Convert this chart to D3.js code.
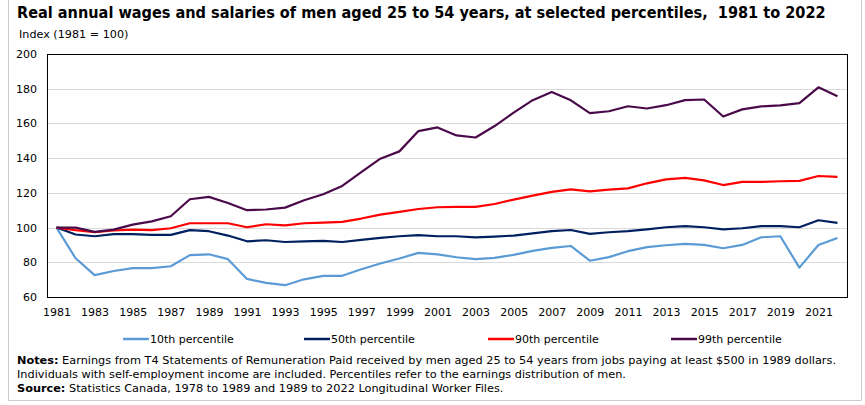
<!DOCTYPE html>
<html>
<head>
<meta charset="utf-8">
<script src="https://cdn.jsdelivr.net/npm/d3@7"></script>
<style>
  body { margin: 0; background: #fff; }
  svg { font-family: "DejaVu Sans", Verdana, sans-serif; }
</style>
</head>
<body>
<div id="chart"></div>
<script>
const years = d3.range(1981, 2023);
const yTicks = [60, 80, 100, 120, 140, 160, 180, 200];
const xTickYears = years.filter((y) => (y - 1981) % 2 === 0);

const p10 = [100, 82.3, 72.6, 75, 76.6, 76.6, 77.7, 84.1, 84.6, 81.8, 70.4, 68.1, 66.8, 70.2,
  72.2, 72.2, 76, 79.3, 82.2, 85.4, 84.6, 82.9, 81.8, 82.5, 84.3, 86.6, 88.3, 89.4,
  80.9, 83, 86.4, 88.7, 89.8, 90.6, 90, 88.1, 90, 94.4, 95, 76.9, 90, 94];
const p50 = [100, 96, 95, 96.2, 96.2, 95.8, 95.8, 98.5, 97.9, 95.4, 92.1, 92.7, 91.7, 92.1,
  92.3, 91.7, 92.9, 94.1, 95, 95.6, 95, 95, 94.4, 94.8, 95.4, 96.7, 97.9, 98.6,
  96.4, 97.3, 97.9, 99, 100.2, 100.8, 100.2, 99, 99.6, 100.8, 100.8, 100.2, 104.2, 102.7];
const p90 = [100, 98.5, 97.3, 98.3, 98.8, 98.5, 99.6, 102.5, 102.5, 102.5, 100.2, 101.9, 101.3, 102.5,
  102.9, 103.3, 105.2, 107.5, 109, 110.7, 111.7, 111.9, 111.9, 113.6, 116.1, 118.4, 120.6, 122,
  120.9, 121.9, 122.6, 125.5, 127.8, 128.6, 127.2, 124.5, 126.3, 126.3, 126.7, 126.9, 129.7, 129.2];
const p99 = [100, 100, 97.5, 98.8, 101.7, 103.6, 106.5, 116.3, 117.7, 114.2, 110, 110.4, 111.5, 115.7,
  119.2, 124, 132, 139.7, 143.9, 155.6, 157.7, 153.1, 151.9, 158.5, 166.2, 173.4, 178.1, 173.3,
  165.9, 167, 169.9, 168.6, 170.5, 173.4, 173.8, 164, 168.1, 169.8, 170.4, 171.7, 180.8, 175.6];

const seriesNames = ['10th percentile', '50th percentile', '90th percentile', '99th percentile'];
const seriesColors = ['#5b9bd5', '#002060', '#ff0000', '#4a0a4a'];
const seriesValues = [p10, p50, p90, p99];

const width = 865;
const height = 405;
const plot = { left: 47, top: 54, right: 847, bottom: 297 };

const svg = d3.select('#chart')
  .append('svg')
  .attr('width', width)
  .attr('height', height);

// outer frame (top edge sits above the picture)
svg.append('path')
  .attr('d', 'M8.5,0 V400.5 H861.5 V0')
  .attr('fill', 'none')
  .attr('stroke', '#cccccc');

// title, sized so it fills the same width as the original
const title = svg.append('text')
  .attr('x', 17).attr('y', 18)
  .attr('font-family', '"DejaVu Sans Condensed", "DejaVu Sans", sans-serif')
  .attr('font-size', 16)
  .attr('font-weight', 'bold')
  .attr('fill', '#000')
  .style('white-space', 'pre')
  .text('Real annual wages and salaries of men aged 25 to 54 years, at selected percentiles,  1981 to 2022');
const titleW = title.node().getComputedTextLength();
title.attr('font-size', Math.min(17, 16 * 809 / titleW));

svg.append('text')
  .attr('x', 19).attr('y', 38)
  .attr('font-size', 11.2)
  .text('Index (1981 = 100)');

/* Scale */
const x = d3.scalePoint()
  .domain(years)
  .range([plot.left, plot.right])
  .padding(0.5);

const y = d3.scaleLinear()
  .domain([60, 200])
  .range([plot.bottom, plot.top]);

/* grid */
svg.append('g')
  .selectAll('line')
  .data(yTicks.slice(1, -1))
  .enter()
  .append('line')
  .attr('x1', plot.left).attr('x2', plot.right)
  .attr('y1', (d) => Math.round(y(d)) + 0.5)
  .attr('y2', (d) => Math.round(y(d)) + 0.5)
  .attr('stroke', '#d9d9d9');

/* Axis */
const yAxis = d3.axisLeft(y).tickValues(yTicks).tickSize(0).tickPadding(10);
svg.append('g')
  .attr('transform', `translate(${plot.left}, 0)`)
  .call(yAxis)
  .call((g) => g.select('.domain').remove())
  .selectAll('text')
  .attr('font-family', '"DejaVu Sans", Verdana, sans-serif')
  .attr('font-size', 11)
  .attr('fill', '#000');

const xAxis = d3.axisBottom(x).tickValues(xTickYears).tickSize(0).tickPadding(10);
svg.append('g')
  .attr('transform', `translate(0, ${plot.bottom + 1})`)
  .call(xAxis)
  .call((g) => g.select('.domain').remove())
  .selectAll('text')
  .attr('font-family', '"DejaVu Sans", Verdana, sans-serif')
  .attr('font-size', 11)
  .attr('fill', '#000');

/* lines */
const line = d3.line()
  .x((d, i) => x(years[i]))
  .y((d) => y(d));

svg.append('g')
  .selectAll('path')
  .data(seriesValues)
  .enter()
  .append('path')
  .attr('d', (d) => line(d))
  .attr('fill', 'none')
  .attr('stroke', (d, i) => seriesColors[i])
  .attr('stroke-width', 2.2)
  .attr('stroke-linejoin', 'round');

// plot frame
svg.append('rect')
  .attr('x', plot.left + 0.5).attr('y', plot.top + 0.5)
  .attr('width', plot.right - plot.left).attr('height', plot.bottom - plot.top)
  .attr('fill', 'none')
  .attr('stroke', '#000');

/* legend */
const legendX = [123, 304, 488, 671];
const legend = svg.append('g')
  .selectAll('g')
  .data(seriesNames)
  .enter()
  .append('g')
  .attr('transform', (d, i) => `translate(${legendX[i]}, 339)`);

legend.append('line')
  .attr('x1', 0).attr('x2', 26)
  .attr('stroke', (d, i) => seriesColors[i])
  .attr('stroke-width', 2.5);

legend.append('text')
  .attr('x', 27).attr('y', 4)
  .attr('font-size', 11)
  .text((d) => d);

/* notes */
const notes = svg.append('text')
  .attr('x', 17).attr('y', 364)
  .attr('font-size', 11.3);
notes.append('tspan').attr('font-weight', 'bold').text('Notes:');
notes.append('tspan').text(' Earnings from T4 Statements of Remuneration Paid received by men aged 25 to 54 years from jobs paying at least $500 in 1989 dollars.');

svg.append('text')
  .attr('x', 17).attr('y', 378)
  .attr('font-size', 11.3)
  .text('Individuals with self-employment income are included. Percentiles refer to the earnings distribution of men.');

const source = svg.append('text')
  .attr('x', 17).attr('y', 392)
  .attr('font-size', 11.3);
source.append('tspan').attr('font-weight', 'bold').text('Source:');
source.append('tspan').text(' Statistics Canada, 1978 to 1989 and 1989 to 2022 Longitudinal Worker Files.');
</script>
</body>
</html>
